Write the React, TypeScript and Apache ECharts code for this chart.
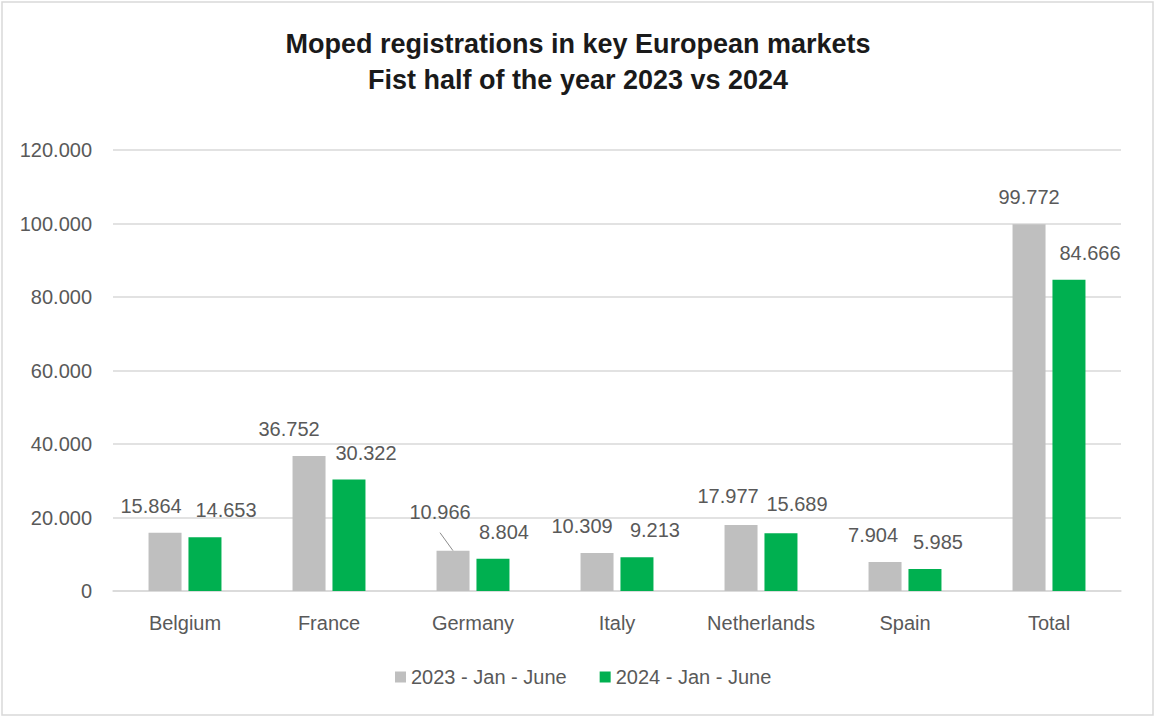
import React, { useEffect, useRef } from "react";
import * as echarts from "echarts";

const categories = ["Belgium", "France", "Germany", "Italy", "Netherlands", "Spain", "Total"];
const series2023 = [15864, 36752, 10966, 10309, 17977, 7904, 99772];
const series2024 = [14653, 30322, 8804, 9213, 15689, 5985, 84666];
const seriesNames = ["2023 - Jan - June", "2024 - Jan - June"];
const yTicks = { min: 0, max: 120000, interval: 20000 };

// label nudges (layout only)
const nudge2023 = [[-14, 0], [-20, 0], [-13, -12], [-15, 0], [-13, -2], [-12, 0], [0, 0]];
const nudge2024 = [[21, 0], [17, 0], [11, 0], [18, 0], [16, -2], [13, 0], [21, 0]];

const fmt = (n: number) => String(n).replace(/\B(?=(\d{3})+(?!\d))/g, ".");

const FONT = "'Liberation Sans', Arial, sans-serif";
const TXT = "#595959";

export default function App() {
  const ref = useRef<HTMLDivElement>(null);
  useEffect(() => {
    if (!ref.current) return;
    const chart = echarts.init(ref.current, undefined, { renderer: "svg" });
    const labelBase = {
      show: true,
      position: "top" as const,
      distance: 17,
      fontFamily: FONT,
      fontSize: 20,
      color: TXT,
      formatter: (p: any) => fmt(p.value),
    };
    chart.setOption({
      animation: false,
      backgroundColor: "#ffffff",
      textStyle: { fontFamily: FONT },
      title: {
        text: "Moped registrations in key European markets\nFist half of the year 2023 vs 2024",
        left: "center",
        top: 21,
        textStyle: {
          fontFamily: FONT,
          fontSize: 27,
          fontWeight: "bold",
          color: "#1a1a1a",
          lineHeight: 36,
        },
      },
      legend: {
        data: seriesNames,
        bottom: 26,
        left: 390,
        icon: "rect",
        itemWidth: 11,
        itemHeight: 11,
        itemGap: 33,
        textStyle: { fontFamily: FONT, fontSize: 20, color: TXT },
      },
      grid: { left: 113, right: 35, top: 150, bottom: 127, containLabel: false },
      xAxis: {
        type: "category",
        data: categories,
        axisLine: { show: true, lineStyle: { color: "#D9D9D9", width: 1.5 } },
        axisTick: { show: false },
        axisLabel: { margin: 22, fontFamily: FONT, fontSize: 20, color: TXT },
      },
      yAxis: {
        type: "value",
        min: yTicks.min,
        max: yTicks.max,
        interval: yTicks.interval,
        axisLine: { show: false },
        axisTick: { show: false },
        splitLine: { lineStyle: { color: "#D9D9D9", width: 1.5 } },
        axisLabel: {
          margin: 21,
          fontFamily: FONT,
          fontSize: 20,
          color: TXT,
          formatter: (v: number) => fmt(v),
        },
      },
      labelLayout: (params: any) => {
        const n = params.seriesIndex === 0 ? nudge2023 : nudge2024;
        const d = n[params.dataIndex] || [0, 0];
        return { dx: d[0], dy: d[1] };
      },
      series: [
        {
          name: seriesNames[0],
          type: "bar",
          barWidth: 33,
          barGap: "21%",
          itemStyle: { color: "#BFBFBF" },
          label: labelBase,
          data: series2023,
        },
        {
          name: seriesNames[1],
          type: "bar",
          barWidth: 33,
          barGap: "21%",
          itemStyle: { color: "#00B050" },
          label: labelBase,
          data: series2024,
        },
      ],
    });
    // border + leader line for Germany 2023 label
    const p = chart.convertToPixel({ gridIndex: 0 }, [categories[2], series2023[2]]) as number[];
    const barCx = p[0] - 20;
    chart.setOption({
      graphic: [
        {
          type: "rect",
          shape: { x: 2, y: 2, width: 1151, height: 713 },
          style: { fill: "none", stroke: "#D9D9D9", lineWidth: 1.5 },
          silent: true,
        },
        {
          type: "line",
          shape: { x1: barCx - 13, y1: p[1] - 18, x2: barCx, y2: p[1] },
          style: { stroke: "#8C8C8C", lineWidth: 1 },
          silent: true,
        },
      ],
    });
    return () => chart.dispose();
  }, []);
  return (
    <div
      ref={ref}
      style={{ position: "fixed", left: 0, top: 0, width: 1156, height: 718 }}
    />
  );
}
